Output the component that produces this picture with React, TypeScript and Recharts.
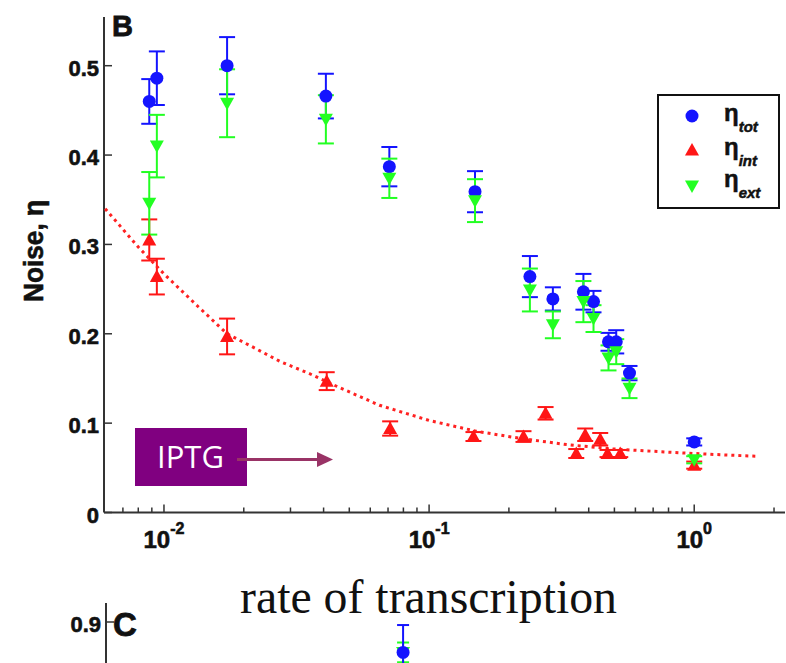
import React from 'react';
import { ScatterChart, Scatter, XAxis, YAxis, ErrorBar, Legend, Label } from 'recharts';

// panel B: noise vs rate of transcription (log x)
const totX = [0.0088, 0.0094, 0.0173, 0.0408, 0.0708, 0.149, 0.24, 0.293, 0.382, 0.417, 0.475, 0.508, 0.57, 1.0];
const totY = [0.46, 0.486, 0.5, 0.466, 0.387, 0.359, 0.264, 0.239, 0.247, 0.236, 0.191, 0.191, 0.156, 0.079];
const totErr = [0.025, 0.03, 0.032, 0.025, 0.022, 0.023, 0.023, 0.013, 0.02, 0.012, 0.01, 0.013, 0.008, 0.004];

const intX = [0.0088, 0.0094, 0.0173, 0.0411, 0.0713, 0.147, 0.227, 0.275, 0.359, 0.388, 0.442, 0.471, 0.526, 1.0];
const intY = [0.305, 0.264, 0.197, 0.147, 0.094, 0.085, 0.085, 0.111, 0.066, 0.087, 0.082, 0.066, 0.066, 0.053];
const intErr = [0.023, 0.02, 0.02, 0.01, 0.008, 0.005, 0.006, 0.007, 0.005, 0.007, 0.007, 0.004, 0.004, 0.004];

const extX = [0.0088, 0.0094, 0.0173, 0.0408, 0.0708, 0.149, 0.24, 0.293, 0.382, 0.417, 0.475, 0.508, 0.57, 1.0];
const extY = [0.346, 0.41, 0.458, 0.44, 0.374, 0.349, 0.249, 0.21, 0.236, 0.217, 0.173, 0.18, 0.139, 0.059];
const extErr = [0.035, 0.035, 0.038, 0.027, 0.022, 0.024, 0.024, 0.015, 0.023, 0.015, 0.014, 0.014, 0.011, 0.004];

// dotted fit through the intrinsic noise
const fitX = [0.006, 0.008, 0.01, 0.0135, 0.0173, 0.022, 0.0274, 0.035, 0.045, 0.065, 0.1, 0.15, 0.22, 0.33, 0.5, 0.75, 1.0, 1.4, 1.72];
const fitY = [0.34, 0.297, 0.267, 0.23, 0.2, 0.184, 0.169, 0.156, 0.141, 0.12, 0.103, 0.091, 0.083, 0.076, 0.071, 0.068, 0.066, 0.064, 0.063];

const xMajor = [0.01, 0.1, 1];
const xMajorExp = ['-2', '-1', '0'];
const xTicks = [0.007, 0.008, 0.009, 0.01, 0.02, 0.03, 0.04, 0.05, 0.06, 0.07, 0.08, 0.09, 0.1,
  0.2, 0.3, 0.4, 0.5, 0.6, 0.7, 0.8, 0.9, 1, 2];
const yTicks = [0, 0.1, 0.2, 0.3, 0.4, 0.5];
const legendSubs = ['tot', 'int', 'ext'];

// panel C (cut off at the bottom)
const cX = [0.079];
const cTotY = [0.82];
const cTotErr = [0.072];
const cExtY = [0.82];
const cExtErr = [0.026];
const cTicks = [0.9];

const BLUE = '#1414ff';
const RED = '#ff1616';
const GREEN = '#22ff22';
const AXIS = '#333';
const BOLD = '"Liberation Sans", Arial, sans-serif';

const rows = (xs: number[], ys: number[], es?: number[]) =>
  xs.map((x, i) => ({ x, y: ys[i], err: es ? es[i] : 0 }));

const totData = rows(totX, totY, totErr);
const intData = rows(intX, intY, intErr);
const extData = rows(extX, extY, extErr);
const fitData = rows(fitX, fitY);

const Dot = (p: any) => <circle cx={p.cx} cy={p.cy} r={6.5} fill={BLUE} />;
const TriUp = (p: any) => (
  <path d={`M${p.cx},${p.cy - 7} L${p.cx + 7},${p.cy + 5.5} L${p.cx - 7},${p.cy + 5.5} Z`} fill={RED} />
);
const TriDown = (p: any) => (
  <path d={`M${p.cx - 7},${p.cy - 5.5} L${p.cx + 7},${p.cy - 5.5} L${p.cx},${p.cy + 7} Z`} fill={GREEN} />
);
const Nothing = () => <g />;

const XTick = (props: any) => {
  const { x, y, payload } = props;
  const k = xMajor.indexOf(payload.value);
  return (
    <g>
      <line x1={x} y1={y} x2={x} y2={y - (k >= 0 ? 8 : 5)} stroke={AXIS} strokeWidth={1.5} />
      {k >= 0 && (
        <text x={x} y={y + 35} textAnchor="middle" fontFamily={BOLD} fontWeight="bold" fontSize={24}
          fill="#111" stroke="#111" strokeWidth={0.6}>
          10<tspan dy={-14} fontSize={16}>{xMajorExp[k]}</tspan>
        </text>
      )}
    </g>
  );
};

const YTick = (props: any) => {
  const { x, y, payload } = props;
  return (
    <g>
      <line x1={x} y1={y} x2={x + 8} y2={y} stroke={AXIS} strokeWidth={1.5} />
      <text x={x - 5} y={y + 10} textAnchor="end" fontFamily={BOLD} fontWeight="bold" fontSize={22}
        fill="#111" stroke="#111" strokeWidth={0.6}>
        {String(payload.value)}
      </text>
    </g>
  );
};

const LegendBox = () => {
  const marks = [
    (cx: number, cy: number) => <circle cx={cx} cy={cy} r={6.5} fill={BLUE} />,
    (cx: number, cy: number) => <TriUp cx={cx} cy={cy} />,
    (cx: number, cy: number) => <TriDown cx={cx} cy={cy} />,
  ];
  const markY = [22, 56, 92];
  const textY = [27, 61, 93];
  return (
    <svg width={123} height={116}>
      <rect x={1} y={1} width={121} height={113} fill="#fff" stroke="#111" strokeWidth={2} />
      {legendSubs.map((s, i) => (
        <g key={s}>
          {marks[i](35, markY[i])}
          <text x={67} y={textY[i]} fontFamily={BOLD} fontWeight="bold" fontSize={24} fill="#111"
            stroke="#111" strokeWidth={0.5}>
            η<tspan dy={11} fontSize={15} fontStyle="italic">{s}</tspan>
          </text>
        </g>
      ))}
    </svg>
  );
};

export default function App() {
  return (
    <div style={{ position: 'absolute', left: 0, top: 0, width: 786, height: 663, overflow: 'hidden', background: '#fff' }}>
      <div style={{ position: 'absolute', left: 0, top: 0 }}>
        <ScatterChart width={786} height={663} margin={{ top: 17, right: 1, bottom: 110.5, left: 44 }}>
          <XAxis
            type="number"
            dataKey="x"
            scale="log"
            domain={[0.00594, 2.2]}
            allowDataOverflow
            ticks={xTicks}
            interval={0}
            height={40}
            tickLine={false}
            tickSize={0}
            tickMargin={0}
            tick={<XTick />}
            axisLine={{ stroke: AXIS, strokeWidth: 2 }}
          >
            <Label
              content={() => (
                <text x={240} y={613} fontFamily='"Liberation Serif", "Times New Roman", serif' fontSize={48}
                  textLength={377} lengthAdjust="spacingAndGlyphs" fill="#111">
                  rate of transcription
                </text>
              )}
            />
          </XAxis>
          <YAxis
            type="number"
            dataKey="y"
            domain={[0, 0.5545]}
            allowDataOverflow
            ticks={yTicks}
            interval={0}
            width={60}
            tickLine={false}
            tickSize={0}
            tickMargin={0}
            tick={<YTick />}
            axisLine={{ stroke: AXIS, strokeWidth: 2 }}
          >
            <Label
              content={() => (
                <text x={42.5} y={251} transform="rotate(-90, 42.5, 251)" textAnchor="middle" fontFamily={BOLD}
                  fontWeight="bold" fontSize={27} textLength={102} lengthAdjust="spacingAndGlyphs" fill="#111"
                  stroke="#111" strokeWidth={0.6}>
                  Noise, η
                </text>
              )}
            />
          </YAxis>
          <Scatter
            name="fit"
            data={fitData}
            shape={<Nothing />}
            line={{ stroke: '#ff2222', strokeWidth: 3, strokeDasharray: '3 4' }}
            lineType="joint"
            isAnimationActive={false}
          />
          <Scatter name="tot" data={totData} shape={<Dot />} isAnimationActive={false}>
            <ErrorBar dataKey="err" direction="y" width={8} stroke={BLUE} strokeWidth={2} isAnimationActive={false} />
          </Scatter>
          <Scatter name="int" data={intData} shape={<TriUp />} isAnimationActive={false}>
            <ErrorBar dataKey="err" direction="y" width={8} stroke={RED} strokeWidth={2} isAnimationActive={false} />
          </Scatter>
          <Scatter name="ext" data={extData} shape={<TriDown />} isAnimationActive={false}>
            <ErrorBar dataKey="err" direction="y" width={8} stroke={GREEN} strokeWidth={2} isAnimationActive={false} />
          </Scatter>
          <Legend
            layout="vertical"
            align="center"
            verticalAlign="middle"
            content={<LegendBox />}
            wrapperStyle={{ left: 657, top: 94, width: 123, height: 116 }}
          />
        </ScatterChart>
      </div>

      <div style={{ position: 'absolute', left: 0, top: 590 }}>
        <ScatterChart width={786} height={127} margin={{ top: 13, right: 1, bottom: 0, left: 46 }}>
          <XAxis type="number" dataKey="x" scale="log" domain={[0.00594, 2.2]} allowDataOverflow hide />
          <YAxis
            type="number"
            dataKey="y"
            domain={[0.65, 0.95]}
            allowDataOverflow
            ticks={cTicks}
            width={60}
            tickLine={false}
            tickSize={0}
            tickMargin={0}
            tick={<YTick />}
            axisLine={{ stroke: AXIS, strokeWidth: 2 }}
          />
          <Scatter name="ext" data={rows(cX, cExtY, cExtErr)} shape={<TriDown />} isAnimationActive={false}>
            <ErrorBar dataKey="err" direction="y" width={6} stroke={GREEN} strokeWidth={2} isAnimationActive={false} />
          </Scatter>
          <Scatter name="tot" data={rows(cX, cTotY, cTotErr)} shape={<Dot />} isAnimationActive={false}>
            <ErrorBar dataKey="err" direction="y" width={6} stroke={BLUE} strokeWidth={2} isAnimationActive={false} />
          </Scatter>
        </ScatterChart>
      </div>

      <svg width={786} height={663} style={{ position: 'absolute', left: 0, top: 0, pointerEvents: 'none' }}>
        <text x={112} y={36} fontFamily={BOLD} fontWeight="bold" fontSize={29} fill="#111" stroke="#111" strokeWidth={0.8}>B</text>
        <text x={113} y={636} fontFamily={BOLD} fontWeight="bold" fontSize={33} fill="#111" stroke="#111" strokeWidth={0.8}>C</text>
        <rect x={135} y={428} width={112} height={58} fill="#800080" />
        <text x={157} y={468} fontFamily='"Open Sans", sans-serif' fontSize={31} fill="#fff">IPTG</text>
        <line x1={237} y1={459.5} x2={318} y2={459.5} stroke="#993366" strokeWidth={3} />
        <path d="M317,452 L333,459.5 L317,467 Z" fill="#993366" />
      </svg>
    </div>
  );
}
